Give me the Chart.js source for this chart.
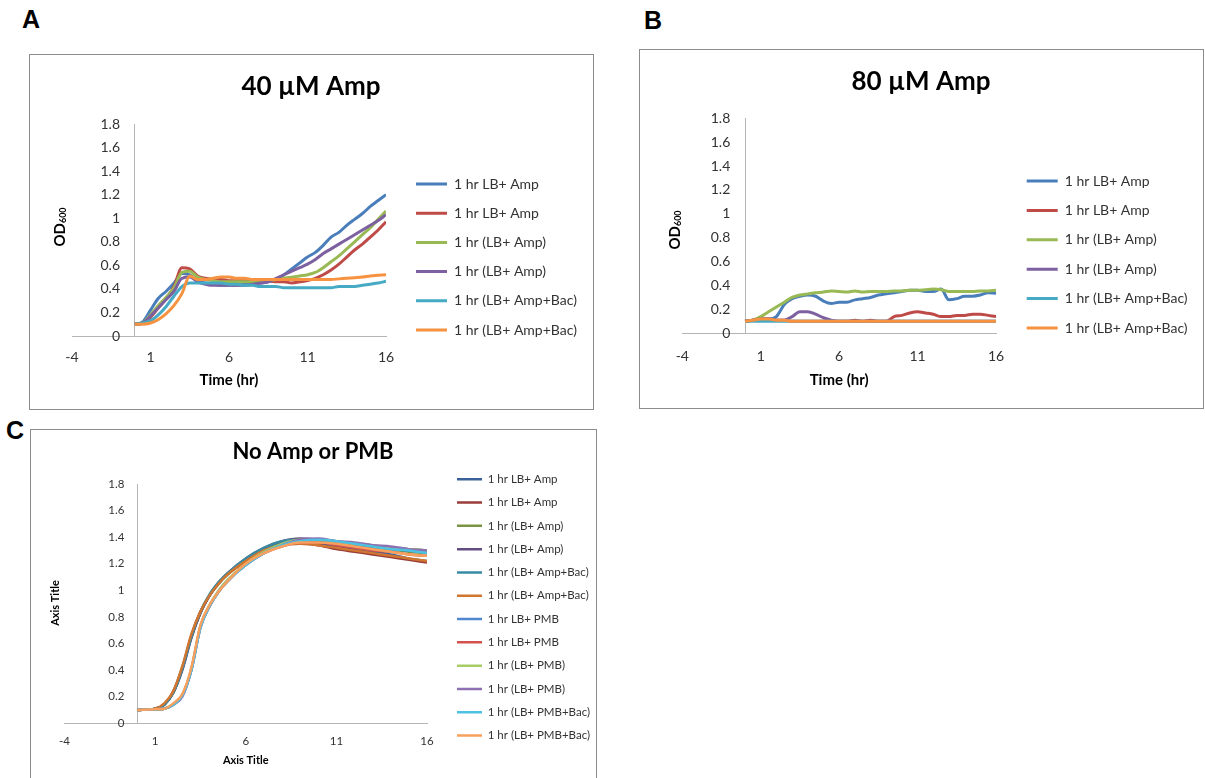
<!DOCTYPE html>
<html>
<head>
<meta charset="utf-8">
<script src="https://cdn.jsdelivr.net/npm/chart.js@4.4.1/dist/chart.umd.min.js"></script>
<style>
  html, body { margin: 0; padding: 0; background: #fff; }
  body { width: 1205px; height: 778px; position: relative; overflow: hidden; font-family: 'Liberation Sans', Arial, sans-serif; }
  .tag { position: absolute; font-weight: bold; font-size: 25px; line-height: 25px; color: #000; }
  .box { position: absolute; box-sizing: border-box; border: 1px solid #8c8c8c; }
  canvas { position: absolute; }
</style>
</head>
<body>
<div class="tag" style="left:22px;top:7px">A</div>
<div class="tag" style="left:644px;top:8px">B</div>
<div class="tag" style="left:6px;top:418px">C</div>

<div class="box" style="left:29px;top:54px;width:565px;height:356px"></div>
<div class="box" style="left:639px;top:49px;width:565px;height:360px"></div>
<div class="box" style="left:30px;top:429px;width:567px;height:400px"></div>

<canvas id="chartA" width="562" height="353" style="left:30px;top:55px"></canvas>
<canvas id="chartB" width="562" height="357" style="left:640px;top:50px"></canvas>
<canvas id="chartC" width="564" height="348" style="left:31px;top:430px"></canvas>

<script>
Chart.defaults.font.family = "Lato";
Chart.defaults.color = "#333";

// time points (hr)
const hoursAB = [0,0.5,1,1.5,2,2.5,3,3.5,4,4.5,5,5.5,6,6.5,7,7.5,8,8.5,9,9.5,10,10.5,11,11.5,12,12.5,13,13.5,14,14.5,15,15.5,16];
const hoursC = [0,1,1.5,2,2.5,3,3.5,4,4.5,5,6,7,8,9,10,11,12,13,14,15,16];

// axis tick labels
const xTickValues = [-4, 1, 6, 11, 16];
const yTickValues = [0, 0.2, 0.4, 0.6, 0.8, 1, 1.2, 1.4, 1.6, 1.8];

// legend names
const legendAB = ["1 hr LB+ Amp", "1 hr LB+ Amp", "1 hr (LB+ Amp)", "1 hr (LB+ Amp)", "1 hr (LB+ Amp+Bac)", "1 hr (LB+ Amp+Bac)"];
const legendC = ["1 hr LB+ Amp", "1 hr LB+ Amp", "1 hr (LB+ Amp)", "1 hr (LB+ Amp)", "1 hr (LB+ Amp+Bac)", "1 hr (LB+ Amp+Bac)",
  "1 hr LB+ PMB", "1 hr LB+ PMB", "1 hr (LB+ PMB)", "1 hr (LB+ PMB)", "1 hr (LB+ PMB+Bac)", "1 hr (LB+ PMB+Bac)"];

// A: 40 uM Amp
const amp40Blue   = [0.10,0.12,0.22,0.32,0.38,0.45,0.53,0.52,0.47,0.45,0.44,0.43,0.43,0.43,0.44,0.44,0.45,0.46,0.48,0.52,0.57,0.62,0.67,0.71,0.77,0.84,0.88,0.94,0.99,1.04,1.10,1.15,1.20];
const amp40Red    = [0.10,0.11,0.16,0.24,0.32,0.42,0.58,0.57,0.51,0.49,0.48,0.48,0.47,0.47,0.47,0.47,0.47,0.47,0.46,0.46,0.45,0.46,0.47,0.49,0.52,0.56,0.61,0.67,0.73,0.78,0.84,0.90,0.97];
const amp40Green  = [0.10,0.11,0.18,0.26,0.33,0.41,0.54,0.55,0.50,0.48,0.47,0.46,0.46,0.46,0.46,0.46,0.47,0.47,0.48,0.49,0.50,0.51,0.52,0.54,0.58,0.63,0.68,0.74,0.80,0.86,0.92,0.99,1.06];
const amp40Purple = [0.10,0.11,0.17,0.24,0.31,0.38,0.49,0.50,0.46,0.44,0.43,0.43,0.43,0.43,0.43,0.44,0.45,0.46,0.49,0.52,0.55,0.58,0.61,0.65,0.70,0.74,0.78,0.82,0.86,0.90,0.94,0.98,1.03];
const amp40Cyan   = [0.10,0.11,0.13,0.18,0.25,0.34,0.42,0.45,0.45,0.45,0.45,0.45,0.44,0.44,0.43,0.43,0.42,0.42,0.42,0.41,0.41,0.41,0.41,0.41,0.41,0.41,0.42,0.42,0.42,0.43,0.44,0.45,0.465];
const amp40Orange = [0.10,0.10,0.11,0.14,0.19,0.26,0.36,0.51,0.48,0.48,0.49,0.50,0.50,0.49,0.49,0.48,0.48,0.48,0.48,0.48,0.48,0.48,0.48,0.48,0.48,0.48,0.485,0.49,0.495,0.50,0.51,0.515,0.52];

// B: 80 uM Amp
const amp80Blue   = [0.10,0.11,0.12,0.12,0.14,0.24,0.29,0.31,0.32,0.31,0.27,0.25,0.26,0.26,0.28,0.29,0.30,0.32,0.33,0.34,0.35,0.36,0.36,0.35,0.35,0.37,0.28,0.29,0.31,0.31,0.32,0.34,0.335];
const amp80Red    = [0.10,0.11,0.12,0.12,0.11,0.11,0.10,0.10,0.10,0.10,0.10,0.10,0.10,0.10,0.11,0.10,0.11,0.10,0.10,0.14,0.15,0.17,0.18,0.17,0.16,0.14,0.14,0.15,0.15,0.16,0.16,0.15,0.14];
const amp80Green  = [0.10,0.11,0.14,0.18,0.22,0.26,0.30,0.32,0.33,0.34,0.345,0.355,0.35,0.345,0.355,0.345,0.35,0.35,0.35,0.355,0.355,0.36,0.36,0.365,0.37,0.365,0.35,0.35,0.35,0.35,0.355,0.355,0.36];
const amp80Purple = [0.10,0.11,0.12,0.12,0.11,0.11,0.14,0.18,0.18,0.16,0.13,0.11,0.10,0.10,0.10,0.10,0.10,0.10,0.10,0.10,0.10,0.10,0.10,0.10,0.10,0.10,0.10,0.10,0.10,0.10,0.10,0.10,0.10];
const amp80Cyan   = [0.10,0.10,0.10,0.10,0.10,0.10,0.10,0.10,0.10,0.10,0.10,0.10,0.10,0.10,0.10,0.10,0.10,0.10,0.10,0.10,0.10,0.10,0.10,0.10,0.10,0.10,0.10,0.10,0.10,0.10,0.10,0.10,0.10];
const amp80Orange = [0.10,0.11,0.12,0.12,0.11,0.11,0.10,0.10,0.10,0.10,0.10,0.10,0.10,0.10,0.10,0.10,0.10,0.10,0.10,0.10,0.10,0.10,0.10,0.10,0.10,0.10,0.10,0.10,0.10,0.10,0.10,0.10,0.10];

// C: No Amp or PMB
const noAmp1  = [0.10,0.11,0.14,0.23,0.41,0.65,0.83,0.96,1.05,1.12,1.23,1.31,1.35,1.36,1.35,1.33,1.31,1.29,1.27,1.24,1.22];
const noAmp2  = [0.10,0.11,0.14,0.24,0.42,0.66,0.84,0.96,1.05,1.12,1.22,1.30,1.34,1.35,1.34,1.31,1.29,1.27,1.25,1.23,1.21];
const noAmp3  = [0.10,0.11,0.14,0.23,0.41,0.65,0.83,0.96,1.05,1.12,1.23,1.31,1.36,1.38,1.37,1.35,1.34,1.32,1.31,1.29,1.28];
const noAmp4  = [0.10,0.11,0.14,0.23,0.40,0.64,0.83,0.96,1.06,1.13,1.24,1.32,1.37,1.39,1.38,1.36,1.35,1.33,1.32,1.31,1.30];
const noAmp5  = [0.10,0.11,0.14,0.23,0.41,0.65,0.84,0.97,1.06,1.13,1.24,1.32,1.37,1.38,1.37,1.36,1.34,1.33,1.31,1.30,1.29];
const noAmp6  = [0.10,0.11,0.15,0.24,0.43,0.67,0.84,0.96,1.05,1.12,1.22,1.30,1.34,1.35,1.34,1.32,1.30,1.28,1.26,1.24,1.22];
const noAmp7  = [0.10,0.105,0.11,0.14,0.21,0.40,0.72,0.88,0.99,1.07,1.19,1.28,1.34,1.37,1.38,1.37,1.35,1.33,1.32,1.30,1.29];
const noAmp8  = [0.10,0.105,0.11,0.14,0.21,0.41,0.73,0.88,0.99,1.07,1.20,1.28,1.33,1.36,1.36,1.34,1.32,1.30,1.29,1.27,1.26];
const noAmp9  = [0.10,0.105,0.11,0.14,0.21,0.41,0.73,0.89,1.00,1.08,1.20,1.29,1.35,1.38,1.38,1.37,1.35,1.34,1.32,1.31,1.30];
const noAmp10 = [0.10,0.105,0.11,0.14,0.20,0.40,0.72,0.88,0.99,1.07,1.19,1.28,1.34,1.38,1.39,1.37,1.36,1.34,1.33,1.31,1.30];
const noAmp11 = [0.10,0.105,0.11,0.14,0.21,0.40,0.72,0.88,0.99,1.07,1.19,1.28,1.34,1.37,1.38,1.37,1.35,1.33,1.31,1.30,1.28];
const noAmp12 = [0.10,0.105,0.11,0.15,0.22,0.42,0.74,0.89,0.99,1.07,1.20,1.28,1.33,1.36,1.36,1.35,1.33,1.31,1.29,1.27,1.26];

const coloursAB = ["#4A7EBB", "#BE4B48", "#98B954", "#7D60A0", "#46AAC5", "#F69240"];
const coloursC = ["#3A629A", "#9A3D3A", "#7A9444", "#634C82", "#388BA2", "#D17630",
  "#4F88D0", "#D4524E", "#A8CC66", "#8C70B2", "#4DC1E2", "#F9A05C"];

// moves the legend to its spot and draws the rotated y title
const panelExtras = {
  id: "panelExtras",
  afterLayout(chart, args, opts) {
    const lg = chart.legend;
    const pad = lg.options.labels.padding;
    const dx = opts.legendX - pad - lg.left;
    const dy = opts.legendY - pad - lg.top;
    lg.left += dx; lg.right += dx;
    lg.top += dy; lg.bottom += dy;
  },
  afterDraw(chart, args, opts) {
    const ctx = chart.ctx;
    const subSize = Math.round(opts.yTitleSize * 0.6);
    ctx.save();
    ctx.translate(opts.yTitleX, opts.yTitleY);
    ctx.rotate(-Math.PI / 2);
    ctx.fillStyle = "#000";
    ctx.textBaseline = "middle";
    ctx.textAlign = "left";
    ctx.font = "bold " + opts.yTitleSize + "px Lato";
    const w1 = ctx.measureText(opts.yTitle).width;
    let w2 = 0;
    if (opts.ySub) {
      ctx.font = "bold " + subSize + "px Lato";
      w2 = ctx.measureText(opts.ySub).width;
    }
    const x0 = -(w1 + w2) / 2;
    ctx.font = "bold " + opts.yTitleSize + "px Lato";
    ctx.fillText(opts.yTitle, x0, 0);
    if (opts.ySub) {
      ctx.font = "bold " + subSize + "px Lato";
      ctx.fillText(opts.ySub, x0 + w1, opts.yTitleSize * 0.22);
    }
    ctx.restore();
  }
};

const measureCtx = document.createElement("canvas").getContext("2d");

// empty side axis, only used to reserve room beside the plot
function spacer(side, width) {
  return {
    type: "linear", axis: "y", position: side,
    grid: { display: false, drawTicks: false },
    border: { display: false },
    ticks: { display: false },
    afterFit: s => { s.width = width; }
  };
}

function drawPanel(id, p) {
  const n = p.series.length;
  const canvas = document.getElementById(id);
  // legend width as Chart.js computes it, so the plot ends where it should
  measureCtx.font = p.legendSize + "px Lato";
  const textW = Math.max(...p.labels.map(t => measureCtx.measureText(t).width));
  const legendW = p.legendGap + p.swatch + p.legendSize / 2 + textW;
  const rightGap = Math.max(0, canvas.width - p.plotRight - legendW);

  new Chart(canvas, {
    type: "line",
    data: {
      datasets: p.series.map((vals, i) => ({
        label: p.labels[i],
        data: p.hours.map((h, j) => ({ x: h, y: vals[j] })),
        yAxisID: "y",
        borderColor: p.colours[i],
        backgroundColor: p.colours[i],
        borderWidth: p.lineWidth,
        borderJoinStyle: "round",
        pointRadius: 0,
        cubicInterpolationMode: "monotone",
        order: n - i
      }))
    },
    options: {
      responsive: false,
      animation: false,
      layout: { padding: 0 },
      plugins: {
        title: {
          display: true, text: p.title, color: "#000",
          font: { size: p.titleSize, weight: "bold", lineHeight: 1.2 },
          padding: { top: p.titleTop, bottom: p.titleBottom }
        },
        legend: {
          position: "right", align: "start", maxWidth: 1000,
          labels: {
            usePointStyle: true, pointStyle: "line", pointStyleWidth: p.swatch,
            padding: p.legendGap, color: "#333",
            font: { size: p.legendSize, lineHeight: 1 },
            sort: (a, b) => a.datasetIndex - b.datasetIndex
          }
        },
        tooltip: { enabled: false },
        panelExtras: {
          legendX: p.legendX, legendY: p.legendY,
          yTitle: p.yTitle, ySub: p.ySub, yTitleX: p.yTitleX, yTitleY: p.yTitleY, yTitleSize: p.yTitleSize
        }
      },
      scales: {
        x: {
          type: "linear", min: -4, max: 16,
          afterBuildTicks: ax => { ax.ticks = xTickValues.map(v => ({ value: v })); },
          grid: { display: false, drawTicks: false },
          border: { color: "#b5b5b5" },
          ticks: { padding: p.xTickPad, color: "#333", maxRotation: 0, font: { size: p.tickSize, lineHeight: 1.2 } },
          title: {
            display: true, text: p.xTitle, color: "#000",
            font: { size: p.axisTitleSize, weight: "bold", lineHeight: 1.2 },
            padding: { top: p.xTitleTop, bottom: p.xTitleBottom }
          }
        },
        // tick labels, set a little left of the axis line
        y: {
          type: "linear", position: { x: p.yLabelAt }, min: 0, max: 1.8,
          afterBuildTicks: ax => { ax.ticks = yTickValues.map(v => ({ value: v })); },
          grid: { display: false, drawTicks: false },
          border: { display: false },
          ticks: { color: "#333", font: { size: p.tickSize }, callback: v => String(v) }
        },
        // the vertical axis line at time 0
        yLine: {
          type: "linear", axis: "y", position: { x: 0 }, min: 0, max: 1.8,
          grid: { display: false, drawTicks: false },
          border: { color: "#b5b5b5" },
          ticks: { display: false }
        },
        padLeft: spacer("left", p.plotLeft),
        padRight: spacer("right", rightGap)
      }
    },
    plugins: [panelExtras]
  });
}

drawPanel("chartA", {
  title: "40 µM Amp", titleSize: 26, titleTop: 16.4, titleBottom: 21.4,
  hours: hoursAB, labels: legendAB, colours: coloursAB, lineWidth: 3,
  series: [amp40Blue, amp40Red, amp40Green, amp40Purple, amp40Cyan, amp40Orange],
  plotLeft: 42, plotRight: 366,
  legendX: 386, legendY: 122, legendGap: 15.2, legendSize: 14, swatch: 31,
  tickSize: 14, xTickPad: 12.6, yLabelAt: -0.94,
  xTitle: "Time (hr)", axisTitleSize: 15, xTitleTop: -7, xTitleBottom: 19,
  yTitle: "OD", ySub: "600", yTitleX: 30, yTitleY: 172, yTitleSize: 15
});

drawPanel("chartB", {
  title: "80 µM Amp", titleSize: 26, titleTop: 16.4, titleBottom: 20.7,
  hours: hoursAB, labels: legendAB, colours: coloursAB, lineWidth: 3,
  series: [amp80Blue, amp80Red, amp80Green, amp80Purple, amp80Cyan, amp80Orange],
  plotLeft: 42.3, plotRight: 366,
  legendX: 386.7, legendY: 124, legendGap: 15.4, legendSize: 14, swatch: 31,
  tickSize: 14, xTickPad: 14.3, yLabelAt: -0.94,
  xTitle: "Time (hr)", axisTitleSize: 15, xTitleTop: -7.7, xTitleBottom: 18,
  yTitle: "OD", ySub: "600", yTitleX: 35, yTitleY: 180, yTitleSize: 15
});

drawPanel("chartC", {
  title: "No Amp or PMB", titleSize: 22, titleTop: 8.8, titleBottom: 18.8,
  hours: hoursC, labels: legendC, colours: coloursC, lineWidth: 2.5,
  series: [noAmp1, noAmp2, noAmp3, noAmp4, noAmp5, noAmp6, noAmp7, noAmp8, noAmp9, noAmp10, noAmp11, noAmp12],
  plotLeft: 33.5, plotRight: 406,
  legendX: 426, legendY: 43.5, legendGap: 11.8, legendSize: 11.5, swatch: 25,
  tickSize: 11.5, xTickPad: 10.8, yLabelAt: -0.7,
  xTitle: "Axis Title", axisTitleSize: 11, xTitleTop: -5.3, xTitleBottom: 11.4,
  yTitle: "Axis Title", ySub: "", yTitleX: 24, yTitleY: 173, yTitleSize: 11
});
</script>
</body>
</html>
